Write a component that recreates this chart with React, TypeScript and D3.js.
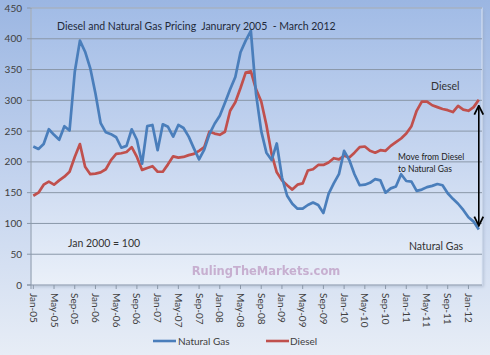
import React from "react";
import * as d3 from "d3";

const naturalGas = [
  225, 221, 229, 253, 244, 236, 258, 251, 346, 397, 379, 352,
  311, 263, 248, 245, 240, 223, 226, 253, 236, 197, 258, 260,
  219, 261, 257, 241, 260, 255, 241, 222, 204, 220, 245, 262,
  275, 296, 318, 338, 378, 397, 413, 310, 250, 215, 203, 230,
  175, 145, 132, 124, 124, 130, 134, 130, 117, 148, 165, 180,
  218, 203, 180, 162, 163, 166, 172, 170, 150, 157, 160, 180,
  169, 168, 153, 155, 159, 161, 164, 162, 149, 140, 132, 122,
  110, 103, 90,
];

const diesel = [
  145, 150, 163, 168, 163, 170, 176, 184, 208, 229, 192, 180,
  181, 183, 188, 203, 213, 214, 216, 224, 208, 187, 190, 193,
  184, 184, 196, 209, 207, 208, 211, 213, 218, 224, 249, 246,
  244, 249, 283, 297, 320, 345, 347, 318, 298, 260, 213, 183,
  170, 162, 155, 163, 165, 186, 188, 195, 195, 199, 206, 204,
  210, 207, 215, 224, 225, 218, 215, 219, 218, 226, 232, 238,
  246, 258, 283, 298, 298, 292, 289, 286, 284, 281, 291, 285,
  283, 289, 301,
];

const fmt = d3.timeFormat("%b-%y");
const months = d3.timeMonths(new Date(2005, 0, 1), new Date(2012, 3, 1)).map(fmt);

const tickLabels = [
  "Jan-05", "May-05", "Sep-05", "Jan-06", "May-06", "Sep-06", "Jan-07", "May-07",
  "Sep-07", "Jan-08", "May-08", "Sep-08", "Jan-09", "May-09", "Sep-09", "Jan-10",
  "May-10", "Sep-10", "Jan-11", "May-11", "Sep-11", "Jan-12",
];
const yTicks = [0, 50, 100, 150, 200, 250, 300, 350, 400, 450];

const W = 490;
const H = 355;
const plot = { left: 31, right: 482, top: 8, bottom: 285 };
const FONT = "Lato, 'Open Sans', sans-serif";

export default function App() {
  const x = d3.scalePoint<string>().domain(months).range([33.3, 478.8]);
  const y = d3.scaleLinear().domain([0, 450]).range([plot.bottom, plot.top]);

  const line = (vals: number[]) =>
    d3
      .line<number>()
      .x((_, i) => x(months[i]) as number)
      .y((v) => y(v))(vals) as string;

  const arrowX = x(months[months.length - 1]) as number;

  return (
    <div style={{ position: "fixed", left: 0, top: 0 }}>
      <svg width={W} height={H} style={{ display: "block" }}>
        <defs>
          <linearGradient id="bg" x1="0" y1="0" x2="0" y2="1">
            <stop offset="0%" stopColor="#9bb6e2" />
            <stop offset="50%" stopColor="#c3d3ee" />
            <stop offset="100%" stopColor="#e7edf6" />
          </linearGradient>
          <linearGradient id="pa" x1="0" y1="0" x2="0" y2="1">
            <stop offset="0%" stopColor="#a2bce6" />
            <stop offset="55%" stopColor="#c8d7f0" />
            <stop offset="100%" stopColor="#eaf0f9" />
          </linearGradient>
          <filter id="sh" x="-5%" y="-5%" width="110%" height="110%">
            <feGaussianBlur stdDeviation="1.5" />
          </filter>
          <marker id="ah" viewBox="0 0 10 10" refX="9" refY="5" markerWidth="7" markerHeight="7" orient="auto-start-reverse">
            <path d="M1,1 L9,5 L1,9" fill="none" stroke="#000" strokeWidth="1.6" />
          </marker>
        </defs>
        <rect x={0} y={0} width={W} height={H} fill="url(#bg)" />
        <rect
          x={plot.left + 2}
          y={plot.top + 2}
          width={plot.right - plot.left}
          height={plot.bottom - plot.top}
          fill="#98a6bd"
          opacity={0.5}
          filter="url(#sh)"
        />
        <rect
          x={plot.left}
          y={plot.top}
          width={plot.right - plot.left}
          height={plot.bottom - plot.top}
          fill="url(#pa)"
          stroke="#dbe5f5"
          strokeWidth={1}
        />
        {yTicks.slice(1).map((t) => (
          <line key={t} x1={plot.left} x2={plot.right} y1={y(t)} y2={y(t)} stroke="#8a97a8" strokeWidth={1} />
        ))}
        <line x1={plot.left} x2={plot.left} y1={plot.top} y2={plot.bottom + 4} stroke="#8a97a8" />
        <line x1={plot.left - 4} x2={plot.right} y1={plot.bottom} y2={plot.bottom} stroke="#8a97a8" />
        {yTicks.map((t) => (
          <g key={t}>
            <line x1={plot.left - 4} x2={plot.left} y1={y(t)} y2={y(t)} stroke="#8a97a8" />
            <text x={22} y={y(t) + 3.5} textAnchor="end" fontFamily={FONT} fontSize={10} fill="#404040">
              {t}
            </text>
          </g>
        ))}
        {tickLabels.map((lab) => {
          const px = x(lab) as number;
          return (
            <g key={lab}>
              <line x1={px} x2={px} y1={plot.bottom} y2={plot.bottom + 4} stroke="#8a97a8" />
              <text
                transform={`translate(${px - 3.5},${plot.bottom + 8}) rotate(90)`}
                fontFamily={FONT}
                fontSize={10}
                fill="#404040"
              >
                {lab}
              </text>
            </g>
          );
        })}
        <text
          x={266}
          y={275}
          textAnchor="middle"
          fontFamily="'DejaVu Sans', Verdana, sans-serif"
          fontWeight="bold"
          fontSize={11.5}
          fill="#c4a9cc"
          opacity={0.9}
        >
          RulingTheMarkets.com
        </text>
        <path d={line(diesel)} fill="none" stroke="#c0504d" strokeWidth={2.7} strokeLinejoin="round" />
        <path d={line(naturalGas)} fill="none" stroke="#4a7ebb" strokeWidth={2.7} strokeLinejoin="round" />
        <text x={57} y={30} fontFamily={FONT} fontSize={10.5} fill="#1f2a3a" style={{ whiteSpace: "pre" }}>
          {"Diesel and Natural Gas Pricing  Janurary 2005  - March 2012"}
        </text>
        <text x={431} y={90} fontFamily={FONT} fontSize={10.5} fill="#333">Diesel</text>
        <text x={398} y={160} fontFamily={FONT} fontSize={8.5} fill="#222">Move from Diesel</text>
        <text x={398} y={172} fontFamily={FONT} fontSize={8.5} fill="#222">to Natural Gas</text>
        <text x={409} y={250} fontFamily={FONT} fontSize={10.5} fill="#333">Natural Gas</text>
        <text x={68} y={247} fontFamily={FONT} fontSize={10.5} fill="#333">Jan 2000 = 100</text>
        <line
          x1={arrowX}
          x2={arrowX}
          y1={y(diesel[diesel.length - 1]) + 6}
          y2={y(naturalGas[naturalGas.length - 1]) - 4}
          stroke="#000"
          strokeWidth={1.6}
          markerStart="url(#ah)"
          markerEnd="url(#ah)"
        />
        <line x1={153} x2={176} y1={341} y2={341} stroke="#4a7ebb" strokeWidth={2.6} />
        <text x={178} y={344.5} fontFamily={FONT} fontSize={10} fill="#404040">Natural Gas</text>
        <line x1={266} x2={289} y1={341} y2={341} stroke="#c0504d" strokeWidth={2.6} />
        <text x={290} y={344.5} fontFamily={FONT} fontSize={10} fill="#404040">Diesel</text>
      </svg>
    </div>
  );
}
